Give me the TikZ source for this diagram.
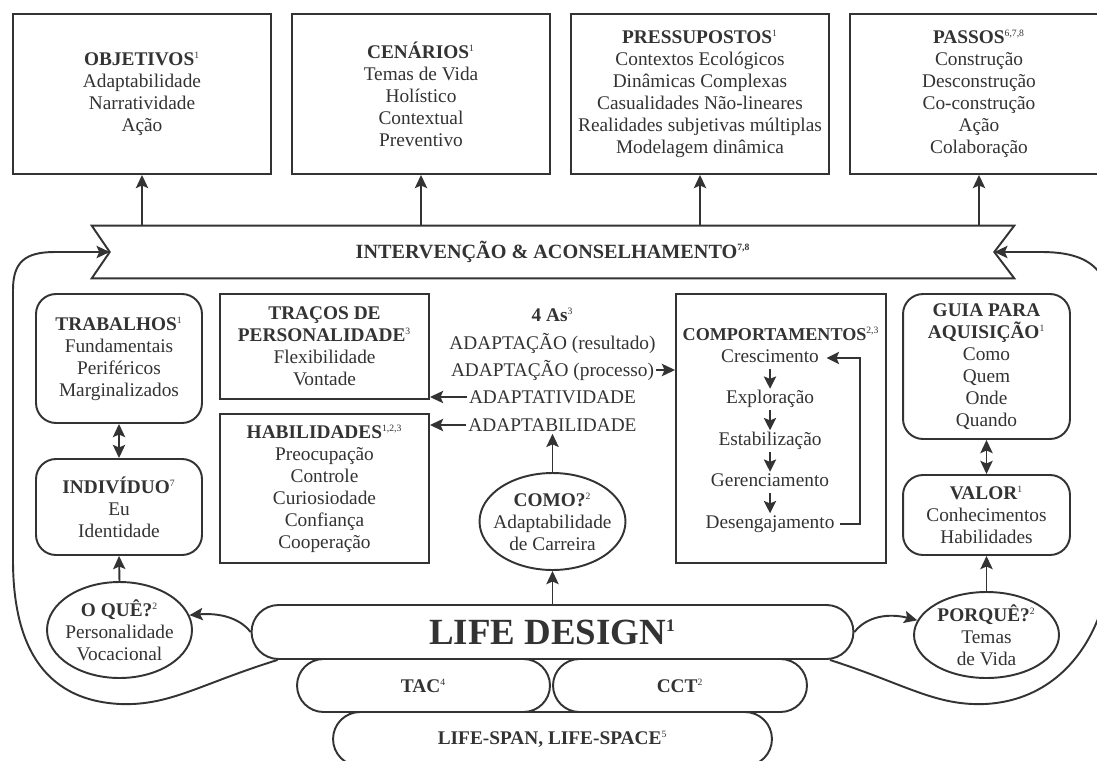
\documentclass[tikz,border=0pt]{standalone}
\usepackage{fontspec}
\setmainfont{Liberation Serif}
\usetikzlibrary{arrows.meta,shapes.geometric,shapes.misc}
\definecolor{ink}{HTML}{333333}
\newcommand{\nt}[1]{\textsuperscript{\fontsize{5.5}{5.5}\selectfont #1}}
\tikzset{
	caixa/.style={draw=ink, line width=1.1pt, fill=white, text=ink, align=center, inner sep=0pt, font=\fontsize{11}{12.5}\selectfont},
	redonda/.style={caixa, rounded corners=0.4cm},
	elipse/.style={caixa, ellipse},
	pilula/.style={caixa, rounded rectangle},
	texto/.style={text=ink, align=center, inner sep=0.04cm, font=\fontsize{11}{12.5}\selectfont},
	etapa/.style={texto, inner sep=0.05cm, text height=0.7em, text depth=0.2em},
	seta/.style={draw=ink, line width=1.1pt, -{Stealth[length=7.5pt,width=7pt,inset=1.5pt]}},
	setinha/.style={draw=ink, line width=1.1pt, -{Stealth[length=7pt,width=7pt,inset=1.4pt]}},
	duasetas/.style={draw=ink, line width=1.1pt, {Stealth[length=7.5pt,width=7pt,inset=1.5pt]}-{Stealth[length=7.5pt,width=7pt,inset=1.5pt]}},
}
\begin{document}
\begin{tikzpicture}[x=0.02cm, y=-0.02cm]
		\useasboundingbox (0,0) rectangle (1097,760);
		\fill[white] (0,0) rectangle (1097,760);
		
		\node[caixa, minimum width=5.16cm, minimum height=3.2cm] (obj) at (142,94) {\textbf{OBJETIVOS}\nt{1}\\Adaptabilidade\\Narratividade\\Ação};
		\node[caixa, minimum width=5.16cm, minimum height=3.2cm] (cen) at (421,94) {\textbf{CENÁRIOS}\nt{1}\\Temas de Vida\\Holístico\\Contextual\\Preventivo};
		\node[caixa, minimum width=5.16cm, minimum height=3.2cm] (pre) at (700,94) {\textbf{PRESSUPOSTOS}\nt{1}\\Contextos Ecológicos\\Dinâmicas Complexas\\Casualidades Não-lineares\\Realidades subjetivas múltiplas\\Modelagem dinâmica};
		\node[caixa, minimum width=5.16cm, minimum height=3.2cm] (pas) at (979,94) {\textbf{PASSOS}\nt{6,7,8}\\Construção\\Desconstrução\\Co-construção\\Ação\\Colaboração};
		
		\node[texto, minimum width=18.44cm, minimum height=1.04cm, font=\fontsize{11.5}{13}\selectfont\bfseries] (banner) at (553,252) {INTERVENÇÃO \& ACONSELHAMENTO\nt{7,8}};
		\draw[ink, line width=1.1pt] (banner.north west) -- (banner.north east) -- ([xshift=-0.4cm]banner.east) -- (banner.south east) -- (banner.south west) -- ([xshift=0.36cm]banner.west) -- cycle;
		
		\draw[seta] (banner.north -| obj.south) -- (obj.south);
		\draw[seta] (banner.north -| cen.south) -- (cen.south);
		\draw[seta] (banner.north -| pre.south) -- (pre.south);
		\draw[seta] (banner.north -| pas.south) -- (pas.south);
		
		\node[redonda, minimum width=3.32cm, minimum height=2.58cm] (trab) at (119,358.5) {\textbf{TRABALHOS}\nt{1}\\Fundamentais\\Periféricos\\Marginalizados};
		\node[redonda, minimum width=3.32cm, minimum height=1.92cm] (indiv) at (119,507) {\textbf{INDIVÍDUO}\nt{7}\\Eu\\Identidade};
		\node[elipse, minimum width=2.9cm, minimum height=1.92cm, label={[texto]center:{\textbf{O QUÊ?}\nt{2}\\Personalidade\\Vocacional}}] (oque) at (119.5,630) {};
		\draw[duasetas] (trab.south) -- (indiv.north);
		\draw[seta] (oque.north) -- (indiv.south);
		
		\node[caixa, minimum width=4.18cm, minimum height=2.1cm] (trac) at (324.5,346.5) {\textbf{TRAÇOS DE}\\\textbf{PERSONALIDADE}\nt{3}\\Flexibilidade\\Vontade};
		\node[caixa, minimum width=4.18cm, minimum height=2.98cm] (habil) at (324.5,488.5) {\textbf{HABILIDADES}\nt{1,2,3}\\Preocupação\\Controle\\Curiosiodade\\Confiança\\Cooperação};
		
		\node[texto] (as4) at (552.5,315) {\textbf{4 As}\nt{3}};
		\node[texto] (adres) at (552.5,343) {ADAPTAÇÃO (resultado)};
		\node[texto] (adproc) at (552.5,370) {ADAPTAÇÃO (processo)};
		\node[texto] (adativ) at (552.5,397) {ADAPTATIVIDADE};
		\node[texto] (adabil) at (552.5,425) {ADAPTABILIDADE};
		\node[elipse, minimum width=2.92cm, minimum height=1.94cm, label={[texto]center:{\textbf{COMO?}\nt{2}\\Adaptabilidade\\de Carreira}}] (como) at (552.5,521.5) {};
		
		\node[caixa, minimum width=4.2cm, minimum height=5.38cm] (comp) at (781,428.5) {};
		\node[texto, font=\fontsize{10.3}{12}\selectfont] (comptit) at (781,334) {\textbf{COMPORTAMENTOS}\nt{2,3}};
		\node[etapa] (cres) at (770,358) {Crescimento};
		\node[etapa] (expl) at (770,399.5) {Exploração};
		\node[etapa] (estab) at (770,441) {Estabilização};
		\node[etapa] (ger) at (770,482.5) {Gerenciamento};
		\node[etapa] (desen) at (770,524) {Desengajamento};
		\draw[setinha] (cres) -- (expl);
		\draw[setinha] (expl) -- (estab);
		\draw[setinha] (estab) -- (ger);
		\draw[setinha] (ger) -- (desen);
		\draw[setinha] ([xshift=0.06cm]desen.east) -- ++(0.4cm,0) |- ([xshift=0.1cm]cres.east);
		
		\draw[seta] (adproc.east) -- (adproc.east -| comp.west);
		\draw[seta] (adativ.west) -- (adativ.west -| trac.east);
		\draw[seta] (adabil.west) -- (adabil.west -| habil.east);
		\draw[seta] (como.north) -- (adabil.south);
		
		\node[redonda, minimum width=3.34cm, minimum height=2.9cm] (guia) at (986.5,366.5) {\textbf{GUIA PARA}\\\textbf{AQUISIÇÃO}\nt{1}\\Como\\Quem\\Onde\\Quando};
		\node[redonda, minimum width=3.34cm, minimum height=1.6cm] (valor) at (986.5,515) {\textbf{VALOR}\nt{1}\\Conhecimentos\\Habilidades};
		\node[elipse, minimum width=2.9cm, minimum height=1.72cm, label={[texto]center:{\textbf{PORQUÊ?}\nt{2}\\Temas\\de Vida}}] (porque) at (986.5,635) {};
		\draw[duasetas] (guia.south) -- (valor.north);
		\draw[seta] (porque.north) -- (valor.south);
		
		\node[pilula, minimum width=8.78cm, minimum height=1.08cm] (lsp) at (552.5,739) {\textbf{LIFE-SPAN, LIFE-SPACE}\nt{5}};
		\node[pilula, minimum width=5.06cm, minimum height=1.06cm] (tac) at (423.5,685.5) {\textbf{TAC}\nt{4}};
		\node[pilula, minimum width=5.08cm, minimum height=1.06cm] (cct) at (680,685.5) {\textbf{CCT}\nt{2}};
		\node[pilula, minimum width=12.04cm, minimum height=1.08cm, font=\fontsize{21}{21}\selectfont\bfseries] (ld) at (552.5,632) {LIFE DESIGN\textsuperscript{\fontsize{10}{10}\selectfont 1}};
		
		\draw[seta] (ld.north) -- (como.south);
		\draw[seta] (ld.west) .. controls (238,616) and (216,613) .. (oque.12);
		\draw[seta] (ld.east) .. controls (867,616) and (889,613) .. (porque.168);
		
		\draw[seta] ([xshift=-5.5cm]ld.south) .. controls (200,684) and (170,706) .. (120,704) .. controls (40,700) and (13,640) .. (13,560) -- (13,290) .. controls (13,262) and (25,252) .. (55,252) -- ([xshift=0.36cm]banner.west);
		\draw[seta] ([xshift=5.55cm]ld.south) .. controls (905,684) and (935,706) .. (985,704) .. controls (1065,700) and (1112,630) .. (1112,540) -- (1112,320) .. controls (1112,262) and (1080,252) .. (1040,252) -- ([xshift=-0.4cm]banner.east);
	\end{tikzpicture}
\end{document}
